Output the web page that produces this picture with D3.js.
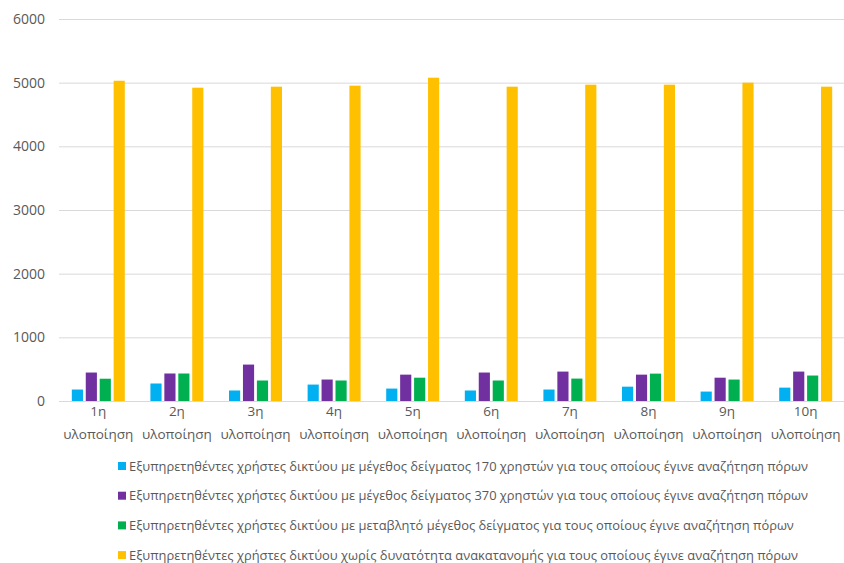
<!DOCTYPE html>
<html>
<head>
<meta charset="utf-8">
<script src="https://cdn.jsdelivr.net/npm/d3@7"></script>
<style>
  html, body { margin: 0; padding: 0; background: #ffffff; }
  svg { display: block; }
  text { font-family: "Open Sans", "DejaVu Sans", sans-serif; fill: #595959; }
</style>
</head>
<body>
<svg id="chart" width="844" height="563"></svg>
<script>
const categories = ["1η υλοποίηση", "2η υλοποίηση", "3η υλοποίηση", "4η υλοποίηση", "5η υλοποίηση",
                    "6η υλοποίηση", "7η υλοποίηση", "8η υλοποίηση", "9η υλοποίηση", "10η υλοποίηση"];
const seriesNames = [
  "Εξυπηρετηθέντες χρήστες δικτύου με μέγεθος δείγματος 170 χρηστών για τους οποίους έγινε αναζήτηση πόρων",
  "Εξυπηρετηθέντες χρήστες δικτύου με μέγεθος δείγματος 370 χρηστών για τους οποίους έγινε αναζήτηση πόρων",
  "Εξυπηρετηθέντες χρήστες δικτύου με μεταβλητό μέγεθος δείγματος για τους οποίους έγινε αναζήτηση πόρων",
  "Εξυπηρετηθέντες χρήστες δικτύου χωρίς δυνατότητα ανακατανομής για τους οποίους έγινε αναζήτηση πόρων"
];
const series170 = [180, 275, 165, 258, 195, 165, 180, 225, 148, 210];
const series370 = [447, 432, 572, 337, 414, 447, 462, 414, 366, 462];
const seriesVar = [350, 432, 322, 322, 366, 322, 352, 430, 337, 400];
const seriesNoRealloc = [5030, 4921, 4937, 4953, 5078, 4937, 4968, 4968, 5000, 4937];
const yTicks = [0, 1000, 2000, 3000, 4000, 5000, 6000];
const colors = ["#00B0F0", "#7030A0", "#00B050", "#FFC000"];

const allSeries = [series170, series370, seriesVar, seriesNoRealloc];

const svg = d3.select("#chart");
const plot = { left: 59, right: 845, top: 19, bottom: 401 };

const x0 = d3.scaleBand().domain(categories).range([plot.left, plot.right])
  .paddingInner(0.326).paddingOuter(0.163);
const x1 = d3.scaleBand().domain(d3.range(4)).range([0, x0.bandwidth()])
  .paddingInner(0.2).paddingOuter(0);
const y = d3.scaleLinear().domain([0, 6000]).range([plot.bottom, plot.top]);

// gridlines
svg.append("g").selectAll("line").data(yTicks).join("line")
  .attr("x1", plot.left).attr("x2", plot.right)
  .attr("y1", d => y(d) + 0.5).attr("y2", d => y(d) + 0.5)
  .attr("stroke", "#d9d9d9").attr("stroke-width", 1);

// y axis labels
const yAxis = d3.axisLeft(y).tickValues(yTicks).tickFormat(d3.format("d")).tickSize(0).tickPadding(0);
const yg = svg.append("g").attr("transform", `translate(45,0)`).call(yAxis);
yg.select(".domain").remove();
yg.selectAll("text").style("font-size", "14px").attr("fill", "#595959")
  .style("font-family", '"Open Sans", sans-serif');

// bars
const groups = svg.append("g").selectAll("g").data(categories).join("g")
  .attr("transform", d => `translate(${x0(d)},0)`);
groups.selectAll("rect")
  .data((c, i) => allSeries.map((s, k) => ({ k, v: s[i] })))
  .join("rect")
  .attr("x", d => x1(d.k))
  .attr("width", x1.bandwidth())
  .attr("y", d => y(d.v))
  .attr("height", d => y(0) - y(d.v))
  .attr("fill", d => colors[d.k]);

// x axis labels (two lines)
const xAxis = d3.axisBottom(x0).tickSize(0).tickFormat("");
const xg = svg.append("g").attr("transform", `translate(0,${plot.bottom})`).call(xAxis);
xg.select(".domain").remove();
xg.selectAll(".tick").each(function(d) {
  const parts = d.split(" ");
  const t = d3.select(this).append("text")
    .attr("text-anchor", "middle").style("font-size", "13.5px").attr("fill", "#595959");
  t.append("tspan").attr("x", 0).attr("y", 15).text(parts[0]);
  t.append("tspan").attr("x", 0).attr("y", 38).text(parts[1]);
});

// legend
const legend = svg.append("g");
const legendX = 118, legendY0 = 466, legendStep = 29.7;
const items = legend.selectAll("g").data(seriesNames).join("g")
  .attr("transform", (d, i) => `translate(${legendX},${legendY0 + i * legendStep})`);
items.append("rect").attr("x", 0).attr("y", -4).attr("width", 8).attr("height", 8)
  .attr("fill", (d, i) => colors[i]);
const texts = items.append("text").attr("x", 0).attr("y", 4.5)
  .style("font-size", "13.5px").text(d => d);
// condensed appearance: scale horizontally so the first line spans the reference width
const w0 = texts.nodes()[0].getComputedTextLength();
const sx = 680 / w0;
texts.attr("transform", `translate(11,0) scale(${sx},1)`);
</script>
</body>
</html>
